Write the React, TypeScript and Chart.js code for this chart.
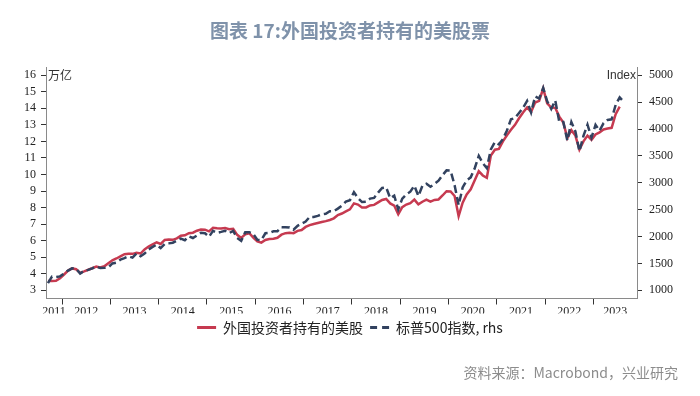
import { useEffect, useRef } from 'react';
import { Chart, registerables } from 'chart.js';

Chart.register(...registerables);

const TITLE = '图表 17:外国投资者持有的美股票';
const SOURCE = '资料来源：Macrobond，兴业研究';
const RED_LABEL = '外国投资者持有的美股';
const NAVY_LABEL = '标普500指数, rhs';
const LEFT_UNIT = '万亿';
const RIGHT_UNIT = 'Index';

// monthly series, first value = Sep 2011
const START_YEAR = 2011;
const START_MONTH = 9;

// 外国投资者持有的美股 (万亿), Sep 2011 – Jul 2023
const foreignHoldings = [
  3.56, 3.56, 3.57, 3.72,
  3.95, 4.19, 4.32, 4.27, 4.05, 4.14, 4.24, 4.33, 4.43, 4.38, 4.45, 4.63,
  4.81, 4.92, 5.05, 5.18, 5.2, 5.2, 5.26, 5.22, 5.47, 5.64, 5.78, 5.89,
  5.8, 6.04, 6.07, 6.05, 6.14, 6.29, 6.32, 6.45, 6.48, 6.6, 6.67, 6.66,
  6.56, 6.78, 6.75, 6.73, 6.76, 6.69, 6.72, 6.35, 6.16, 6.38, 6.45, 6.18,
  5.95, 5.88, 6.04, 6.1, 6.12, 6.17, 6.36, 6.45, 6.47, 6.45, 6.59, 6.64,
  6.83, 6.94, 7.01, 7.07, 7.13, 7.18, 7.25, 7.35, 7.55, 7.64, 7.77, 7.89,
  8.25, 8.18, 8.0, 8.01, 8.13, 8.16, 8.31, 8.46, 8.52, 8.25, 8.12, 7.59,
  8.02, 8.18, 8.27, 8.48, 8.19, 8.35, 8.48, 8.36, 8.46, 8.49, 8.73, 8.99,
  8.97, 8.7, 7.49, 8.3, 8.79, 9.1, 9.65, 10.2, 9.94, 9.8, 11.15, 11.5,
  11.55, 12.0, 12.37, 12.7, 13.0, 13.4, 13.75, 14.05, 13.78, 14.35, 14.45, 15.2,
  14.3, 14.05, 14.03, 13.5, 13.14, 12.2, 12.68, 12.35, 11.51, 12.0, 12.35, 12.1,
  12.42, 12.55, 12.72, 12.78, 12.82, 13.65, 14.1,
];

// 标普500指数 (rhs), Sep 2011 – Aug 2023
const sp500 = [
  1131, 1253, 1247, 1258,
  1312, 1366, 1408, 1398, 1310, 1362, 1379, 1407, 1441, 1412, 1416, 1426,
  1498, 1515, 1569, 1598, 1631, 1606, 1686, 1633, 1682, 1757, 1806, 1848,
  1783, 1859, 1872, 1884, 1924, 1960, 1931, 2003, 1972, 2018, 2068, 2059,
  1995, 2105, 2068, 2086, 2107, 2063, 2104, 1972, 1920, 2079, 2080, 2044,
  1940, 1932, 2060, 2065, 2097, 2099, 2174, 2171, 2168, 2126, 2199, 2239,
  2279, 2364, 2363, 2384, 2412, 2423, 2470, 2472, 2519, 2575, 2648, 2674,
  2824, 2714, 2641, 2648, 2705, 2718, 2816, 2902, 2914, 2712, 2760, 2507,
  2704, 2784, 2834, 2946, 2752, 2942, 2980, 2926, 2977, 3038, 3141, 3231,
  3226, 2954, 2585, 2912, 3044, 3100, 3271, 3500, 3363, 3270, 3622, 3756,
  3714, 3811, 3973, 4181, 4204, 4298, 4395, 4523, 4308, 4605, 4567, 4766,
  4516, 4374, 4530, 4132, 4132, 3785, 4130, 3955, 3586, 3872, 4080, 3840,
  4077, 3970, 4109, 4169, 4180, 4450, 4589, 4508,
];

const yearLabels = ['2011', '2012', '2013', '2014', '2015', '2016', '2017', '2018', '2019', '2020', '2021', '2022', '2023'];
const yearTicks = [2012, 2013, 2014, 2015, 2016, 2017, 2018, 2019, 2020, 2021, 2022, 2023];
const leftTicks = [3, 4, 5, 6, 7, 8, 9, 10, 11, 12, 13, 14, 15, 16];
const rightTicks = [1000, 1500, 2000, 2500, 3000, 3500, 4000, 4500, 5000];

const X_MIN = 2011.668;
const X_MAX = 2023.9;
const LEFT_MIN = 2.5;
const LEFT_MAX = 16.5;
const RIGHT_MIN = 846.15;
const RIGHT_MAX = 5153.85;

const monthX = (i: number) => START_YEAR + (START_MONTH - 1 + i + 0.5) / 12;

const labelPositions = yearLabels.map((y) => {
  const yr = Number(y);
  const a = Math.max(yr, X_MIN);
  const b = Math.min(yr + 1, X_MAX);
  return (a + b) / 2;
});

const unitPlugin = {
  id: 'unitLabels',
  afterDraw(chart: any) {
    const { ctx, chartArea, scales } = chart;
    const yPix = scales.y.getPixelForValue(16);
    ctx.save();
    ctx.fillStyle = '#333';
    ctx.textBaseline = 'middle';
    ctx.font = "12px 'Noto Sans CJK SC'";
    ctx.textAlign = 'left';
    ctx.fillText(LEFT_UNIT, chartArea.left + 2, yPix);
    ctx.font = "12px 'Liberation Sans'";
    ctx.textAlign = 'right';
    ctx.fillText(RIGHT_UNIT, chartArea.right - 1, yPix);
    ctx.restore();
  },
};

export default function App() {
  const canvasRef = useRef<HTMLCanvasElement | null>(null);

  useEffect(() => {
    if (!canvasRef.current) return;
    const tickFont = { family: "'Liberation Serif'", size: 12 };
    const chart = new Chart(canvasRef.current, {
      type: 'line',
      data: {
        datasets: [
          {
            label: RED_LABEL,
            data: foreignHoldings.map((v, i) => ({ x: monthX(i), y: v })),
            borderColor: '#c63a50',
            backgroundColor: '#c63a50',
            borderWidth: 2.5,
            pointRadius: 0,
            pointStyle: 'line',
            tension: 0,
            yAxisID: 'y',
            order: 1,
          },
          {
            label: NAVY_LABEL,
            data: sp500.map((v, i) => ({ x: monthX(i), y: v })),
            borderColor: '#32425f',
            backgroundColor: '#32425f',
            borderWidth: 2.5,
            borderDash: [8, 4],
            pointRadius: 0,
            pointStyle: 'line',
            tension: 0,
            yAxisID: 'y1',
            order: 0,
          },
        ],
      },
      options: {
        responsive: false,
        animation: false,
        layout: { padding: { top: 67, left: 0, right: 0, bottom: 51.5 } },
        plugins: {
          tooltip: { enabled: false },
          title: { display: false },
          legend: {
            position: 'bottom',
            align: 'center',
            labels: {
              usePointStyle: true,
              pointStyleWidth: 19,
              padding: 7,
              color: '#222',
              font: { family: "'Noto Sans CJK SC'", size: 14 },
              sort: (a: any, b: any) => a.datasetIndex - b.datasetIndex,
              generateLabels: (c: any) => {
                const items = (Chart.defaults as any).plugins.legend.labels.generateLabels(c);
                return items.map((it: any) => ({
                  ...it,
                  pointStyle: 'line',
                  lineWidth: 3,
                  lineDash: it.datasetIndex === 1 ? [7, 5] : [],
                }));
              },
            },
          },
        },
        scales: {
          x: {
            type: 'linear',
            position: 'bottom',
            min: X_MIN,
            max: X_MAX,
            afterBuildTicks: (scale: any) => {
              const t = [
                ...yearTicks.map((v) => ({ value: v })),
                ...labelPositions.map((v) => ({ value: v })),
              ];
              t.sort((a, b) => a.value - b.value);
              scale.ticks = t;
            },
            afterFit: (scale: any) => {
              scale.height = 15;
            },
            ticks: {
              autoSkip: false,
              maxRotation: 0,
              minRotation: 0,
              padding: 0,
              color: '#222',
              font: tickFont,
              callback: (value: any) => {
                const idx = labelPositions.indexOf(Number(value));
                return idx >= 0 ? yearLabels[idx] : '';
              },
            },
            grid: {
              drawOnChartArea: false,
              drawTicks: true,
              tickLength: 6,
              tickWidth: 1,
              tickColor: (ctx: any) =>
                ctx.tick && Number.isInteger(ctx.tick.value) ? '#333' : 'rgba(0,0,0,0)',
            },
            border: { display: true, color: '#8a8a8a', width: 1 },
          },
          y: {
            type: 'linear',
            position: 'left',
            min: LEFT_MIN,
            max: LEFT_MAX,
            afterBuildTicks: (scale: any) => {
              scale.ticks = leftTicks.map((v) => ({ value: v }));
            },
            afterFit: (scale: any) => {
              scale.width = 46;
            },
            ticks: { color: '#222', font: tickFont, padding: 5, callback: (v: any) => String(v) },
            grid: { drawOnChartArea: false, tickLength: 5, tickColor: '#333' },
            border: { display: true, color: '#8a8a8a', width: 1 },
          },
          y1: {
            type: 'linear',
            position: 'right',
            min: RIGHT_MIN,
            max: RIGHT_MAX,
            afterBuildTicks: (scale: any) => {
              scale.ticks = rightTicks.map((v) => ({ value: v }));
            },
            afterFit: (scale: any) => {
              scale.width = 63;
            },
            ticks: { color: '#222', font: tickFont, padding: 7, callback: (v: any) => String(v) },
            grid: { drawOnChartArea: false, tickLength: 5, tickColor: '#333' },
            border: { display: true, color: '#8a8a8a', width: 1 },
          },
        },
      } as any,
      plugins: [unitPlugin],
    });
    return () => chart.destroy();
  }, []);

  return (
    <div style={{ position: 'absolute', left: 0, top: 0, width: 700, height: 396, background: '#fff' }}>
      <canvas ref={canvasRef} width={700} height={396} style={{ width: 700, height: 396, display: 'block' }} />
      <div
        style={{
          position: 'absolute',
          left: 0,
          top: 18,
          width: 700,
          textAlign: 'center',
          fontFamily: "'Noto Sans CJK SC'",
          fontWeight: 700,
          fontSize: 19,
          lineHeight: '24px',
          color: '#7f92aa',
        }}
      >
        {TITLE}
      </div>
      <div
        style={{
          position: 'absolute',
          right: 22,
          top: 362,
          fontFamily: "'Noto Sans CJK SC'",
          fontSize: 14,
          lineHeight: '20px',
          color: '#8c8c8c',
          whiteSpace: 'nowrap',
        }}
      >
        {SOURCE}
      </div>
    </div>
  );
}
